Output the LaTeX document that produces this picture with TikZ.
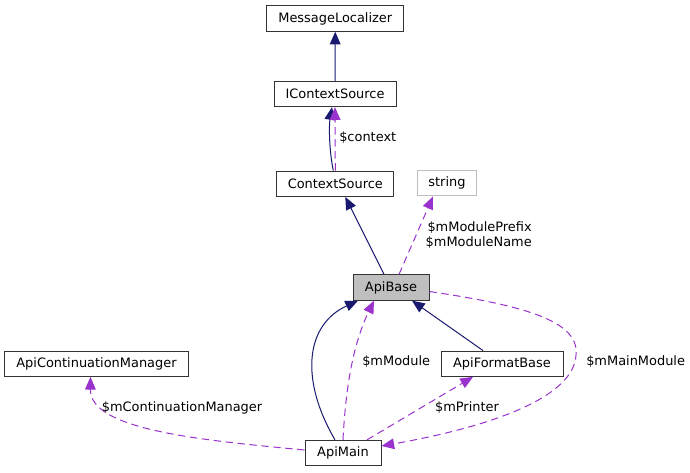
\documentclass[tikz,border=0pt]{standalone}
\usepackage{fontspec}
\setmainfont{DejaVu Sans}
\usetikzlibrary{arrows.meta,calc}
\definecolor{inhblue}{HTML}{191970}
\definecolor{usepurple}{HTML}{9A32CD}
\tikzset{
  cls/.style={draw=black!80, fill=white, line width=0.75pt, inner xsep=0pt, inner ysep=0pt,
    minimum height=19pt, font=\fontsize{9.7}{11.5}\selectfont},
  inh/.style={draw=inhblue, line width=0.75pt, -{Triangle[length=9.5pt,width=8pt]}},
  uses/.style={draw=usepurple, line width=0.75pt, dash pattern=on 5.5pt off 3.5pt,
    -{Triangle[length=9.5pt,width=8pt,fill=usepurple]}},
  lbl/.style={font=\fontsize{9.7}{11}\selectfont, inner sep=0pt}
}
\begin{document}
\begin{tikzpicture}[x=0.75pt,y=-0.75pt]
      \useasboundingbox (0,0) rectangle (690,472);
      \draw
        (335.3,18.5) node[cls, minimum width=103pt] (msgloc){MessageLocalizer}
        (335,94) node[cls, minimum width=91.5pt] (icsrc){IContextSource}
        (335.3,183.7) node[cls, minimum width=87.75pt] (csrc){ContextSource}
        (447,183.3) node[cls, draw=black!25, minimum width=44.25pt] (str){string}
        (391,287.5) node[cls, fill=black!25, minimum width=57pt] (apibase){ApiBase}
        (96.5,363.7) node[cls, minimum width=138pt] (contmgr){ApiContinuationManager}
        (502,363.7) node[cls, minimum width=91.5pt] (fmtbase){ApiFormatBase}
        (343,453) node[cls, minimum width=57pt] (apimain){ApiMain};
      \begin{scope}[inh]
        \draw (icsrc) to (msgloc);
        \draw ($(csrc.north)+(-2,0)$) .. controls (329,150) and (329,125) .. ($(icsrc.south)+(-3,0)$);
        \draw ($(apibase.north)+(-7,0)$) to ($(csrc.south)+(10,0)$);
        \draw ($(apimain.north)+(-8,0)$) .. controls (300,380) and (305,325) .. ($(apibase.south)+(-33,0)$);
        \draw ($(fmtbase.north)+(-19,0)$) to ($(apibase.south)+(21,0)$);
      \end{scope}
      \begin{scope}[uses]
        \draw (csrc.north) to (icsrc.south);
        \draw ($(apibase.north)+(8,0)$) to ($(str.south)+(-14,0)$);
        \draw (apimain.north) .. controls (346,380) and (355,340) .. ($(apibase.south)+(-17,0)$);
        \draw ($(apimain.north)+(24,0)$) to ($(fmtbase.south)+(-29,0)$);
        \draw ($(apibase.east)+(0,4)$) .. controls (520,305) and (580,320) .. (576,355)
          .. controls (574,395) and (500,425) .. ($(apimain.east)+(0,-7)$);
        \draw ($(apimain.west)+(0,-3)$) .. controls (200,440) and (90,430) .. ($(contmgr.south)+(-6,0)$);
      \end{scope}
      \draw
        (339,138) node[lbl, anchor=west] (lcontext){\$context}
        (532,235) node[lbl, anchor=east, align=right] (lmodname){\$mModulePrefix\\\$mModuleName}
        (362,362) node[lbl, anchor=west] (lmodule){\$mModule}
        (467,408) node[lbl] (lprinter){\$mPrinter}
        (586,362) node[lbl, anchor=west] (lmainmod){\$mMainModule}
        (182,408) node[lbl] (lcontmgr){\$mContinuationManager};
    \end{tikzpicture}
\end{document}
